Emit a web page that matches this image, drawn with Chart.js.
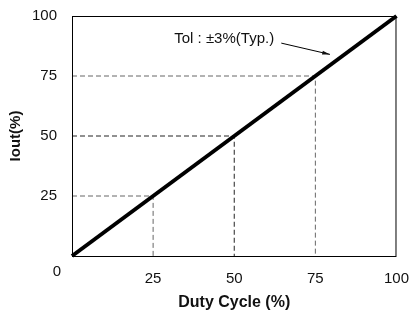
<!DOCTYPE html>
<html lang="en">
<head>
  <meta charset="UTF-8">
  <title>Iout vs Duty Cycle</title>
  <script src="https://cdn.jsdelivr.net/npm/chart.js"></script>
  <style>
    body { margin: 0; padding: 0; background: #fff; }
    #wrap { width: 415px; height: 313px; }
  </style>
</head>
<body>
  <div id="wrap"><canvas id="ioutChart" width="415" height="313"></canvas></div>

  <script>
    // chart data
    const dutyCycle = [0, 100];
    const iout = [0, 100];
    const guideLevels = [25, 50, 75];
    const tickValues = [0, 25, 50, 75, 100];
    const noteText = 'Tol : \u00b13%(Typ.)';
    const noteAt = [31.5, 90.5];        // text position (data units)
    const arrowFrom = [64.5, 88.7];
    const arrowTo = [79.5, 84];

    const fontFamily = '"Liberation Sans", Arial, sans-serif';

    const mainLine = dutyCycle.map((d, i) => ({ x: d, y: iout[i] }));

    const guideSets = guideLevels.map(v => ({
      data: [{ x: 0, y: v }, { x: v, y: v }, { x: v, y: 0 }],
      borderColor: v === 50 ? '#222' : '#666',
      borderWidth: 1,
      borderDash: [5, 3],
      pointRadius: 0,
      order: 2
    }));

    // frame + corner "0" + tolerance note
    const extras = {
      id: 'extras',
      afterDatasetsDraw(chart) {
        const { ctx, chartArea: a, scales: { x, y } } = chart;
        ctx.save();
        ctx.strokeStyle = '#000';
        ctx.lineWidth = 1;
        ctx.strokeRect(a.left + 0.5, a.top + 0.5, a.right - a.left - 1, a.bottom - a.top);

        ctx.fillStyle = '#111';
        ctx.font = '15px ' + fontFamily;
        ctx.textAlign = 'center';
        ctx.textBaseline = 'middle';
        ctx.fillText('0', a.left - 15, a.bottom + 16);

        ctx.textAlign = 'left';
        ctx.fillText(noteText, x.getPixelForValue(noteAt[0]), y.getPixelForValue(noteAt[1]));

        const x1 = x.getPixelForValue(arrowFrom[0]), y1 = y.getPixelForValue(arrowFrom[1]);
        const x2 = x.getPixelForValue(arrowTo[0]), y2 = y.getPixelForValue(arrowTo[1]);
        ctx.beginPath();
        ctx.moveTo(x1, y1);
        ctx.lineTo(x2, y2);
        ctx.stroke();
        const ang = Math.atan2(y2 - y1, x2 - x1);
        ctx.beginPath();
        ctx.moveTo(x2, y2);
        ctx.lineTo(x2 - 8 * Math.cos(ang - 0.25), y2 - 8 * Math.sin(ang - 0.25));
        ctx.lineTo(x2 - 8 * Math.cos(ang + 0.25), y2 - 8 * Math.sin(ang + 0.25));
        ctx.closePath();
        ctx.fill();
        ctx.restore();
      }
    };

    new Chart(document.getElementById('ioutChart'), {
      type: 'line',
      data: {
        datasets: [{
          data: mainLine,
          borderColor: '#000',
          borderWidth: 4,
          pointRadius: 0,
          clip: false,
          order: 1
        }, ...guideSets]
      },
      options: {
        responsive: false,
        animation: false,
        layout: { padding: { left: 0, right: 14, top: 15, bottom: 0 } },
        plugins: { legend: { display: false }, tooltip: { enabled: false } },
        scales: {
          x: {
            type: 'linear',
            min: 0, max: 100,
            afterBuildTicks: s => { s.ticks = tickValues.map(v => ({ value: v })); },
            afterFit: s => { s.height = 57; },
            grid: { display: false },
            border: { display: false },
            ticks: {
              color: '#111',
              font: { family: fontFamily, size: 15 },
              padding: 6,
              maxRotation: 0,
              callback: v => (v === 0 ? '' : v)
            },
            title: {
              display: true,
              text: 'Duty Cycle (%)',
              color: '#111',
              font: { family: fontFamily, size: 16, weight: 'bold' },
              padding: { top: 0, bottom: 1 }
            }
          },
          y: {
            type: 'linear',
            min: 0, max: 100,
            afterBuildTicks: s => { s.ticks = tickValues.map(v => ({ value: v })); },
            afterFit: s => { s.width = 72; },
            grid: { display: false },
            border: { display: false },
            ticks: {
              color: '#111',
              font: { family: fontFamily, size: 15 },
              padding: 7,
              callback: v => (v === 0 ? '' : v)
            },
            title: {
              display: true,
              text: 'Iout(%)',
              color: '#111',
              font: { family: fontFamily, size: 15, weight: 'bold' },
              padding: { top: 7, bottom: 0 }
            }
          }
        }
      },
      plugins: [extras]
    });
  </script>
</body>
</html>
